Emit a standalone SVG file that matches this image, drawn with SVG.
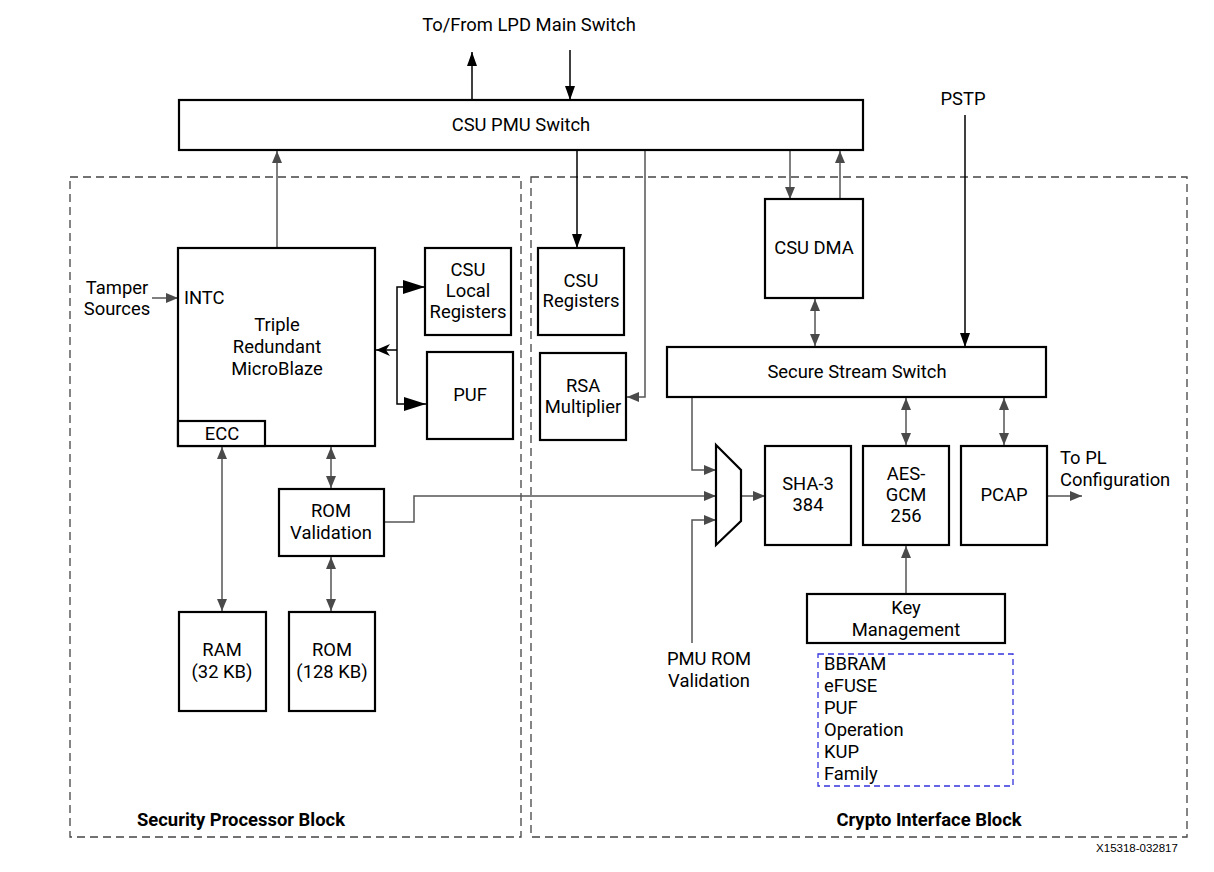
<svg xmlns="http://www.w3.org/2000/svg" width="1214" height="872" viewBox="0 0 1214 872">
<style>
.box{fill:#fff;stroke:#000;stroke-width:2.2}
.blk{fill:none;stroke:#444;stroke-width:1.3;stroke-dasharray:8,5}
.t{font-family:Roboto,"Liberation Sans",sans-serif;font-size:18.4px;fill:#000}
.c{text-anchor:middle}
.b{font-weight:bold}
.g{fill:none;stroke:#555;stroke-width:1.5}
.k{fill:none;stroke:#000;stroke-width:1.5}
</style>
<defs>
<marker id="ag" markerUnits="userSpaceOnUse" markerWidth="12" markerHeight="10" refX="12" refY="5" orient="auto-start-reverse"><path d="M0,0 L12,5 L0,10 z" fill="#4a4a4a"/></marker>
<marker id="ab" markerUnits="userSpaceOnUse" markerWidth="14" markerHeight="10" refX="14" refY="5" orient="auto-start-reverse"><path d="M0,0 L14,5 L0,10 z" fill="#000"/></marker>
<marker id="abig" markerUnits="userSpaceOnUse" markerWidth="22" markerHeight="14" refX="22" refY="7" orient="auto-start-reverse"><path d="M0,0 L22,7 L0,14 z" fill="#000"/></marker>
<marker id="al" markerUnits="userSpaceOnUse" markerWidth="14" markerHeight="12" refX="14" refY="6" orient="auto"><path d="M0,0 L14,6 L0,12 L4,6 z" fill="#000"/></marker>
</defs>

<text class="t c" x="529" y="31">To/From LPD Main Switch</text>
<text class="t c" x="963" y="105">PSTP</text>

<g id="blocks">
<rect class="blk" x="70" y="177" width="451" height="660"/>
<rect class="blk" x="531" y="177" width="656" height="660"/>
<text class="t c b" x="241" y="826">Security Processor Block</text>
<text class="t c b" x="929" y="826">Crypto Interface Block</text>
</g>

<g id="connectors">
<line class="k" x1="472" y1="100" x2="472" y2="52" marker-end="url(#ab)"/>
<line class="k" x1="570" y1="50" x2="570" y2="100" marker-end="url(#ab)"/>
<line class="g" x1="277" y1="248" x2="277" y2="151" marker-end="url(#ag)"/>
<line class="g" x1="152" y1="298" x2="178" y2="298" marker-end="url(#ag)"/>
<polyline class="k" points="425,287 397,287 397,404 426,404" marker-start="url(#abig)" marker-end="url(#abig)"/>
<line class="k" x1="397" y1="350" x2="376" y2="350" marker-end="url(#al)"/>
<line class="k" x1="577" y1="151" x2="577" y2="248" marker-end="url(#ab)"/>
<polyline class="g" points="645,151 645,397 627,397" marker-end="url(#ag)"/>
<line class="g" x1="790" y1="151" x2="790" y2="199" marker-end="url(#ag)"/>
<line class="g" x1="840" y1="199" x2="840" y2="151" marker-end="url(#ag)"/>
<line class="k" x1="965" y1="115" x2="965" y2="347" marker-end="url(#ab)"/>
<line class="g" x1="815" y1="299" x2="815" y2="346" marker-start="url(#ag)" marker-end="url(#ag)"/>
<line class="g" x1="906" y1="398" x2="906" y2="445" marker-start="url(#ag)" marker-end="url(#ag)"/>
<line class="g" x1="1004" y1="398" x2="1004" y2="445" marker-start="url(#ag)" marker-end="url(#ag)"/>
<polyline class="g" points="692,398 692,470 716,470" marker-end="url(#ag)"/>
<polyline class="g" points="385,522 414,522 414,496 716,496" marker-end="url(#ag)"/>
<polyline class="g" points="692,643 692,520 716,520" marker-end="url(#ag)"/>
<line class="g" x1="741" y1="496" x2="765" y2="496" marker-end="url(#ag)"/>
<line class="g" x1="1048" y1="496" x2="1082" y2="496" marker-end="url(#ag)"/>
<line class="g" x1="906" y1="593" x2="906" y2="546" marker-end="url(#ag)"/>
<line class="g" x1="331" y1="447" x2="331" y2="488" marker-start="url(#ag)" marker-end="url(#ag)"/>
<line class="g" x1="331" y1="557" x2="331" y2="611" marker-start="url(#ag)" marker-end="url(#ag)"/>
<line class="g" x1="222" y1="447" x2="222" y2="611" marker-start="url(#ag)" marker-end="url(#ag)"/>
</g>

<g id="csu-pmu-switch">
<rect class="box" x="179" y="100" width="684" height="50"/>
<text class="t c" x="521" y="131">CSU PMU Switch</text>
</g>

<g id="tamper">
<text class="t c" x="117" y="294">Tamper</text>
<text class="t c" x="117" y="315">Sources</text>
</g>

<g id="microblaze">
<rect class="box" x="178" y="248" width="197" height="198"/>
<text class="t" x="184" y="304">INTC</text>
<text class="t c" x="277" y="331">Triple</text>
<text class="t c" x="277" y="353">Redundant</text>
<text class="t c" x="277" y="375">MicroBlaze</text>
</g>
<g id="ecc">
<rect class="box" x="178" y="421" width="87" height="25"/>
<text class="t c" x="222" y="440">ECC</text>
</g>

<g id="csu-local-registers">
<rect class="box" x="425" y="248" width="86" height="87"/>
<text class="t c" x="468" y="276">CSU</text>
<text class="t c" x="468" y="297">Local</text>
<text class="t c" x="468" y="318">Registers</text>
</g>
<g id="puf">
<rect class="box" x="427" y="352" width="86" height="87"/>
<text class="t c" x="470" y="401">PUF</text>
</g>

<g id="csu-registers">
<rect class="box" x="538" y="248" width="86" height="87"/>
<text class="t c" x="581" y="287">CSU</text>
<text class="t c" x="581" y="307">Registers</text>
</g>
<g id="rsa-multiplier">
<rect class="box" x="540" y="353" width="86" height="87"/>
<text class="t c" x="583" y="392">RSA</text>
<text class="t c" x="583" y="413">Multiplier</text>
</g>

<g id="csu-dma">
<rect class="box" x="765" y="199" width="98" height="99"/>
<text class="t c" x="814" y="254">CSU DMA</text>
</g>

<g id="secure-stream-switch">
<rect class="box" x="667" y="347" width="379" height="50"/>
<text class="t c" x="857" y="378">Secure Stream Switch</text>
</g>

<g id="mux">
<polygon class="box" points="716,445 741,470 741,521 716,545"/>
</g>

<g id="sha3">
<rect class="box" x="765" y="446" width="86" height="99"/>
<text class="t c" x="808" y="490">SHA-3</text>
<text class="t c" x="808" y="511">384</text>
</g>
<g id="aes-gcm">
<rect class="box" x="863" y="446" width="86" height="99"/>
<text class="t c" x="906" y="480">AES-</text>
<text class="t c" x="906" y="501">GCM</text>
<text class="t c" x="906" y="522">256</text>
</g>
<g id="pcap">
<rect class="box" x="961" y="446" width="86" height="99"/>
<text class="t c" x="1004" y="501">PCAP</text>
</g>
<g id="to-pl">
<text class="t" x="1060" y="464">To PL</text>
<text class="t" x="1060" y="486">Configuration</text>
</g>

<g id="key-management">
<rect class="box" x="807" y="594" width="198" height="49"/>
<text class="t c" x="906" y="614">Key</text>
<text class="t c" x="906" y="636">Management</text>
</g>
<g id="key-sources">
<rect x="818" y="654" width="195" height="132" fill="none" stroke="#3333dd" stroke-width="1.3" stroke-dasharray="6,4"/>
<text class="t" x="824" y="670">BBRAM</text>
<text class="t" x="824" y="692">eFUSE</text>
<text class="t" x="824" y="714">PUF</text>
<text class="t" x="824" y="736">Operation</text>
<text class="t" x="824" y="758">KUP</text>
<text class="t" x="824" y="780">Family</text>
</g>

<g id="pmu-rom-validation">
<text class="t c" x="709" y="665">PMU ROM</text>
<text class="t c" x="709" y="687">Validation</text>
</g>

<g id="rom-validation">
<rect class="box" x="279" y="489" width="105" height="67"/>
<text class="t c" x="331" y="517">ROM</text>
<text class="t c" x="331" y="539">Validation</text>
</g>
<g id="ram">
<rect class="box" x="179" y="612" width="87" height="99"/>
<text class="t c" x="222" y="656">RAM</text>
<text class="t c" x="222" y="678">(32 KB)</text>
</g>
<g id="rom">
<rect class="box" x="289" y="612" width="86" height="99"/>
<text class="t c" x="332" y="656">ROM</text>
<text class="t c" x="332" y="678">(128 KB)</text>
</g>

<text x="1137" y="852" text-anchor="middle" font-family="Liberation Sans,Arial,sans-serif" font-size="11.5" fill="#000">X15318-032817</text>
</svg>
